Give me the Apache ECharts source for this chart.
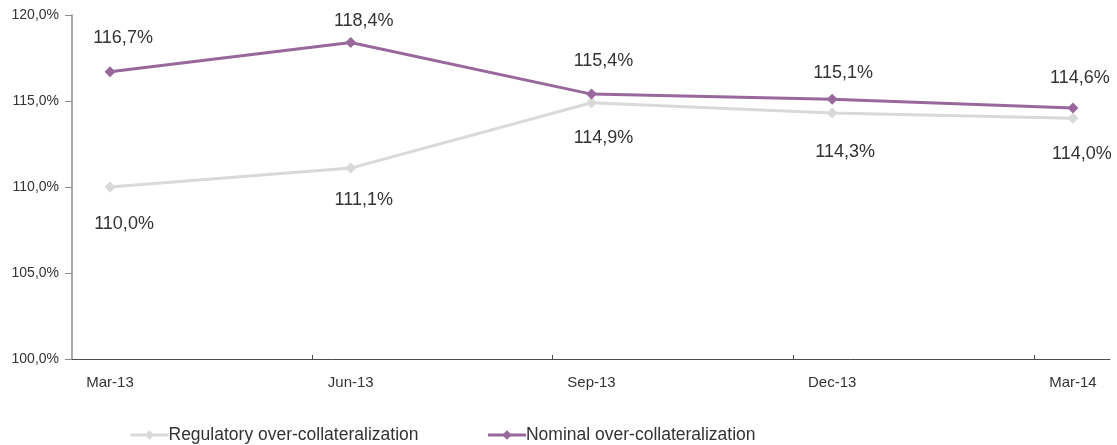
<!DOCTYPE html>
<html><head><meta charset="utf-8">
<script src="https://cdn.jsdelivr.net/npm/echarts@6/dist/echarts.min.js"></script>
<style>html,body{margin:0;padding:0;background:#fff}#c{width:1117px;height:445px}</style>
</head><body><div id="c"></div>
<script>
const categories = ['Mar-13','Jun-13','Sep-13','Dec-13','Mar-14'];
const regulatory = [110.0, 111.1, 114.9, 114.3, 114.0];
const nominal = [116.7, 118.4, 115.4, 115.1, 114.6];
const yTicks = [100, 105, 110, 115, 120];

// label nudges (style only), as in the original's hand-placed labels
const nominalLabelNudge = [[13,-3],[13,9],[12,-3],[11,4],[7,1]];
const regulatoryLabelNudge = [[14,3],[13,-3],[12,1],[13,4],[9,1]];

const fmt = v => v.toFixed(1).replace('.', ',') + '%';
const font = 'Liberation Sans, Arial, sans-serif';
const build = (arr, nudge) => arr.map((v, i) => ({value: [i, v], label: {offset: nudge[i]}}));
const chart = echarts.init(document.getElementById('c'), null, {renderer:'canvas'});
chart.setOption({
  animation: false,
  grid: {left: 72, right: 7, top: 15, bottom: 86},
  xAxis: {
    type: 'value', min: -0.158, max: 4.154,
    splitLine: {show: false},
    axisLine: {show: true, onZero: false, lineStyle: {color: '#4d4d4d', width: 1}},
    axisTick: {show: true, customValues: [0.838, 1.838, 2.838, 3.838], length: 4, inside: true, lineStyle: {color: '#4d4d4d'}},
    axisLabel: {customValues: [0,1,2,3,4], formatter: v => categories[Math.round(v)], color: '#333', fontFamily: font, fontSize: 15, margin: 16}
  },
  yAxis: {
    type: 'value', min: 100, max: 120, interval: 5,
    splitLine: {show: false},
    axisLine: {show: true, onZero: false, lineStyle: {color: '#8c8c8c', width: 1.5}},
    axisTick: {show: true, length: 7, lineStyle: {color: '#8c8c8c'}},
    axisLabel: {formatter: v => yTicks.includes(v) ? fmt(v) : '', color: '#333', fontFamily: font, fontSize: 14, margin: 13}
  },
  legend: {
    left: 124, top: 421, itemWidth: 38, itemHeight: 12, itemGap: 68,
    lineStyle: {width: 3},
    textStyle: {color: '#333', fontFamily: font, fontSize: 17.5, padding: [0,0,0,-5]},
    data: ['Regulatory over-collateralization', 'Nominal over-collateralization']
  },
  series: [
    {
      name: 'Regulatory over-collateralization', type: 'line', data: build(regulatory, regulatoryLabelNudge),
      symbol: 'diamond', symbolSize: 11,
      lineStyle: {color: '#d9d9d9', width: 3}, itemStyle: {color: '#d9d9d9'},
      label: {show: true, position: 'bottom', distance: 20, formatter: p => fmt(p.value[1]), color: '#333', fontFamily: font, fontSize: 18}
    },
    {
      name: 'Nominal over-collateralization', type: 'line', data: build(nominal, nominalLabelNudge),
      symbol: 'diamond', symbolSize: 11,
      lineStyle: {color: '#98689c', width: 3}, itemStyle: {color: '#98689c'},
      label: {show: true, position: 'top', distance: 16, formatter: p => fmt(p.value[1]), color: '#333', fontFamily: font, fontSize: 18}
    }
  ]
});
</script></body></html>
